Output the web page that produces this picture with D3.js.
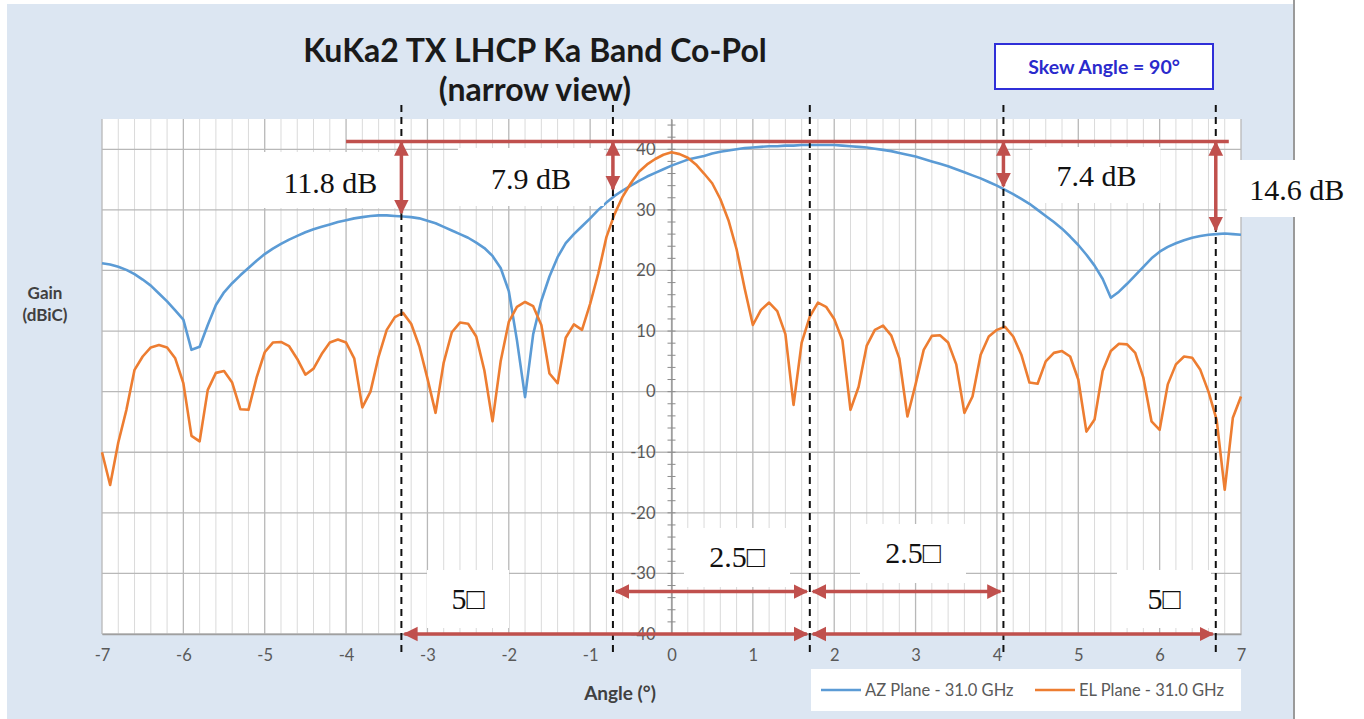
<!DOCTYPE html>
<html>
<head>
<meta charset="utf-8">
<script src="https://cdn.jsdelivr.net/npm/d3@7"></script>
<style>
  body { margin: 0; background: #fff; }
  svg { display: block; }
</style>
</head>
<body>
<div id="chart"></div>
<script>
// ---- data ----
const ANGLES = d3.range(-70, 71).map(d => d / 10);   // -7.0 .. 7.0 deg, 0.1 step

const AZ_GAIN = [
  21.2, 21.0, 20.6, 20.1, 19.4, 18.5, 17.5, 16.2, 14.9, 13.4,
  11.9, 6.9, 7.4, 11.0, 14.3, 16.4, 17.9, 19.2, 20.4, 21.6,
  22.7, 23.6, 24.4, 25.1, 25.7, 26.3, 26.8, 27.2, 27.6, 28.0,
  28.3, 28.6, 28.8, 29.0, 29.1, 29.1, 29.0, 28.9, 28.8, 28.6,
  28.2, 27.8, 27.2, 26.6, 26.0, 25.4, 24.6, 23.7, 22.4, 20.4,
  16.6, 8.5, -0.9, 9.5, 15.0, 19.0, 22.2, 24.5, 26.0, 27.3,
  28.6, 30.0, 31.2, 32.3, 33.2, 34.0, 34.8, 35.5, 36.1, 36.7,
  37.3, 37.8, 38.3, 38.6, 38.9, 39.3, 39.6, 39.8, 40.0, 40.2,
  40.3, 40.4, 40.5, 40.5, 40.6, 40.6, 40.7, 40.7, 40.7, 40.7,
  40.7, 40.6, 40.5, 40.4, 40.3, 40.1, 39.9, 39.7, 39.4, 39.1,
  38.8, 38.4, 38.0, 37.6, 37.2, 36.7, 36.2, 35.7, 35.2, 34.6,
  34.0, 33.3, 32.6, 31.8, 31.0, 30.0, 29.0, 28.0, 26.9, 25.6,
  24.2, 22.6, 20.8, 18.6, 15.5, 16.5, 17.8, 19.2, 20.6, 22.0,
  23.1, 23.9, 24.5, 25.0, 25.4, 25.7, 25.9, 26.0, 26.1, 26.0,
  25.9
];

const EL_GAIN = [
  -10.0, -15.4, -8.4, -3.0, 3.6, 5.8, 7.3, 7.7, 7.3, 5.5,
  1.4, -7.3, -8.2, 0.3, 3.1, 3.4, 1.5, -2.9, -3.0, 2.3,
  6.5, 8.1, 8.2, 7.5, 5.4, 2.8, 3.8, 6.2, 8.1, 8.6,
  8.1, 5.5, -2.6, 0.0, 5.8, 10.2, 12.3, 13.0, 11.2, 7.5,
  2.2, -3.5, 4.8, 9.8, 11.4, 11.2, 9.1, 3.5, -4.9, 5.0,
  11.5, 14.0, 14.8, 14.1, 11.0, 3.0, 1.4, 8.9, 11.1, 10.2,
  14.5, 19.5, 25.5, 29.3, 32.2, 34.4, 36.3, 37.5, 38.4, 39.1,
  39.5, 39.2, 38.6, 37.5, 36.0, 34.4, 31.8, 28.3, 23.5, 17.0,
  11.0, 13.5, 14.7, 13.3, 9.5, -2.2, 8.1, 12.4, 14.7, 14.0,
  12.0, 8.5, -3.0, 0.8, 7.6, 10.2, 10.9, 9.3, 5.5, -4.1,
  1.2, 6.9, 9.2, 9.3, 8.1, 4.5, -3.5, -0.8, 6.1, 9.1,
  10.2, 10.7, 9.1, 6.1, 1.5, 1.3, 5.0, 6.4, 6.7, 5.8,
  2.0, -6.6, -4.6, 3.4, 6.7, 7.9, 7.8, 6.4, 2.3, -4.9,
  -6.3, 1.2, 4.5, 5.8, 5.6, 3.6, 0.0, -4.6, -16.2, -4.3,
  -0.8
];

const SERIES_NAMES = ['AZ Plane - 31.0 GHz', 'EL Plane - 31.0 GHz'];
const X_TICKS = [-7, -6, -5, -4, -3, -2, -1, 0, 1, 2, 3, 4, 5, 6, 7];
const Y_TICKS = [-40, -30, -20, -10, 0, 10, 20, 30, 40];

// annotations
const REF_LEVEL = 41.3;                  // red reference line (dB)
const REF_SPAN = [-4.0, 6.85];
const MARKER_ANGLES = [-3.32, -0.72, 1.70, 4.08, 6.69];
const DROP_ANGLES = [-3.32, -0.72, 4.08, 6.69];
const DROP_DB = [11.8, 7.9, 7.4, 14.6];
const DROP_LABELS = ['11.8 dB', '7.9 dB', '7.4 dB', '14.6 dB'];
const SPAN_FROM = [-3.32, -0.72, 1.70, 1.70];
const SPAN_TO = [1.70, 1.70, 4.08, 6.69];
const SPAN_LEVEL = [-40, -33, -33, -40];
const SPAN_LABELS = ['5\u25A1', '2.5\u25A1', '2.5\u25A1', '5\u25A1'];

// ---- layout ----
const W = 1364, H = 719;
const PLOT = { left: 102, right: 1241, top: 119, bottom: 634 };
const BLUE = '#5b9bd5', ORANGE = '#ed7d31', RED = '#c0504d';
const FONT = 'Lato, "Open Sans", sans-serif';
const SERIF = '"Liberation Serif", "Times New Roman", serif';

const svg = d3.select('#chart').append('svg')
  .attr('width', W).attr('height', H)
  .attr('viewBox', `0 0 ${W} ${H}`);

svg.append('rect').attr('width', W).attr('height', H).attr('fill', '#fff');
svg.append('rect')
  .attr('x', 7).attr('y', 4).attr('width', 1287).attr('height', H - 4)
  .attr('fill', '#dce6f2');
svg.append('line')
  .attr('x1', 1294).attr('x2', 1294).attr('y1', 0).attr('y2', H)
  .attr('stroke', '#9a9a9a').attr('stroke-width', 2);

const x = d3.scaleLinear().domain([-7, 7]).range([PLOT.left, PLOT.right]);
const y = d3.scaleLinear().domain([-40, 45]).range([PLOT.bottom, PLOT.top]);

// plot background
svg.append('rect')
  .attr('x', PLOT.left).attr('y', PLOT.top)
  .attr('width', PLOT.right - PLOT.left).attr('height', PLOT.bottom - PLOT.top)
  .attr('fill', '#fff');

// gridlines
const grid = svg.append('g').attr('class', 'grid');
const vLines = d3.range(-70, 71, 2).map(d => d / 10);
grid.selectAll('line.v').data(vLines).join('line')
  .attr('class', 'v')
  .attr('x1', d => x(d)).attr('x2', d => x(d))
  .attr('y1', PLOT.top).attr('y2', PLOT.bottom)
  .attr('stroke', d => Number.isInteger(d) ? '#b8b8b8' : '#dadada')
  .attr('stroke-width', d => Number.isInteger(d) ? 1.3 : 1);
grid.selectAll('line.h').data(Y_TICKS).join('line')
  .attr('class', 'h')
  .attr('x1', PLOT.left).attr('x2', PLOT.right)
  .attr('y1', d => y(d)).attr('y2', d => y(d))
  .attr('stroke', '#b8b8b8').attr('stroke-width', 1.3);

// x axis (bottom)
const xAxis = svg.append('g')
  .attr('transform', `translate(0,${PLOT.bottom})`)
  .call(d3.axisBottom(x).tickValues(X_TICKS).tickSize(0).tickPadding(15).tickFormat(d => String(d)));
xAxis.select('.domain').attr('stroke', '#a0a0a0').attr('stroke-width', 1.3);
xAxis.selectAll('text').attr('font-family', FONT).attr('font-size', 16.5).attr('fill', '#595959');

// y axis at angle 0
const yAxis = svg.append('g')
  .attr('transform', `translate(${x(0)},0)`)
  .call(d3.axisLeft(y).tickValues(Y_TICKS).tickSize(0).tickPadding(16).tickFormat(d => String(d)));
yAxis.select('.domain').attr('stroke', '#8c8c8c').attr('stroke-width', 1.2);
yAxis.selectAll('text').attr('font-family', FONT).attr('font-size', 16.5).attr('fill', '#595959');
yAxis.selectAll('line.minor').data(d3.range(-40, 46, 2)).join('line')
  .attr('class', 'minor')
  .attr('x1', -4).attr('x2', 4)
  .attr('y1', d => y(d)).attr('y2', d => y(d))
  .attr('stroke', '#8c8c8c').attr('stroke-width', 1);

// series
const line = d3.line().x((d, i) => x(ANGLES[i])).y(d => y(d));
svg.append('path').datum(AZ_GAIN)
  .attr('d', line).attr('fill', 'none')
  .attr('stroke', BLUE).attr('stroke-width', 2.6).attr('stroke-linejoin', 'round');
svg.append('path').datum(EL_GAIN)
  .attr('d', line).attr('fill', 'none')
  .attr('stroke', ORANGE).attr('stroke-width', 2.6).attr('stroke-linejoin', 'round');

// arrowheads
const defs = svg.append('defs');
defs.append('marker')
  .attr('id', 'head').attr('viewBox', '0 0 10 10')
  .attr('refX', 9).attr('refY', 5)
  .attr('markerWidth', 4.2).attr('markerHeight', 4.6)
  .attr('markerUnits', 'strokeWidth')
  .attr('orient', 'auto-start-reverse')
  .append('path').attr('d', 'M0,0 L10,5 L0,10 Z').attr('fill', RED);

// annotation label boxes (white text boxes)
function labelBox(cx, baseline, w, h, txt, padTop) {
  const g = svg.append('g');
  g.append('rect')
    .attr('x', cx - w / 2).attr('y', baseline - padTop)
    .attr('width', w).attr('height', h).attr('fill', '#fff');
  g.append('text')
    .attr('x', cx).attr('y', baseline)
    .attr('text-anchor', 'middle')
    .attr('font-family', SERIF).attr('font-size', 30).attr('fill', '#111')
    .text(txt);
}

// drop labels: offsets from the arrow position (px)
const DROP_BOX = [
  { dx: -71, base: 193, w: 142, h: 56, top: 41 },
  { dx: -82, base: 189, w: 146, h: 58, top: 41 },
  { dx: 93, base: 186, w: 128, h: 56, top: 39 },
  { dx: 81, base: 200, w: 140, h: 57, top: 40 }
];
DROP_ANGLES.forEach((a, i) => {
  const b = DROP_BOX[i];
  labelBox(x(a) + b.dx, b.base, b.w, b.h, DROP_LABELS[i], b.top);
});

const SPAN_BOX = [
  { cx: 468, base: 609, w: 82, h: 58, top: 39 },
  { cx: 737, base: 567, w: 106, h: 59, top: 39 },
  { cx: 913, base: 563, w: 106, h: 59, top: 39 },
  { cx: 1164, base: 609, w: 94, h: 58, top: 39 }
];
SPAN_LABELS.forEach((t, i) => {
  const b = SPAN_BOX[i];
  labelBox(b.cx, b.base, b.w, b.h, t, b.top);
});

// dashed marker lines
svg.selectAll('line.marker').data(MARKER_ANGLES).join('line')
  .attr('class', 'marker')
  .attr('x1', d => x(d)).attr('x2', d => x(d))
  .attr('y1', 105).attr('y2', 652)
  .attr('stroke', '#111').attr('stroke-width', 2)
  .attr('stroke-dasharray', '7,5');

// red reference line
svg.append('line')
  .attr('x1', x(REF_SPAN[0])).attr('x2', x(REF_SPAN[1]))
  .attr('y1', y(REF_LEVEL)).attr('y2', y(REF_LEVEL))
  .attr('stroke', RED).attr('stroke-width', 3.5);

// vertical drop arrows
svg.selectAll('line.drop').data(DROP_ANGLES).join('line')
  .attr('class', 'drop')
  .attr('x1', d => x(d)).attr('x2', d => x(d))
  .attr('y1', y(REF_LEVEL) + 1)
  .attr('y2', (d, i) => y(REF_LEVEL - DROP_DB[i]))
  .attr('stroke', RED).attr('stroke-width', 3.5)
  .attr('marker-start', 'url(#head)').attr('marker-end', 'url(#head)');

// horizontal span arrows
svg.selectAll('line.span').data(SPAN_FROM).join('line')
  .attr('class', 'span')
  .attr('x1', d => x(d) + 3)
  .attr('x2', (d, i) => x(SPAN_TO[i]) - 3)
  .attr('y1', (d, i) => y(SPAN_LEVEL[i])).attr('y2', (d, i) => y(SPAN_LEVEL[i]))
  .attr('stroke', RED).attr('stroke-width', 3.5)
  .attr('marker-start', 'url(#head)').attr('marker-end', 'url(#head)');

// title
const title = svg.append('text')
  .attr('x', 535).attr('text-anchor', 'middle')
  .attr('font-family', FONT).attr('font-weight', 700)
  .attr('font-size', 32).attr('fill', '#1a1a1a');
title.append('tspan').attr('x', 535).attr('y', 62).text('KuKa2 TX LHCP Ka Band Co-Pol');
title.append('tspan').attr('x', 535).attr('y', 101).text('(narrow view)');

// skew angle box
svg.append('rect')
  .attr('x', 995).attr('y', 44).attr('width', 218).attr('height', 45)
  .attr('fill', '#fff').attr('stroke', '#2f2fd8').attr('stroke-width', 2);
svg.append('text')
  .attr('x', 1104).attr('y', 74).attr('text-anchor', 'middle')
  .attr('font-family', FONT).attr('font-weight', 700)
  .attr('font-size', 19.5).attr('fill', '#2a2acc')
  .text('Skew Angle = 90\u00B0');

// axis titles
svg.append('text')
  .attr('x', 45).attr('text-anchor', 'middle')
  .attr('font-family', FONT).attr('font-weight', 700)
  .attr('font-size', 17).attr('fill', '#404040')
  .call(t => {
    t.append('tspan').attr('x', 45).attr('y', 299).text('Gain');
    t.append('tspan').attr('x', 45).attr('y', 321).text('(dBiC)');
  });
svg.append('text')
  .attr('x', 620).attr('y', 700).attr('text-anchor', 'middle')
  .attr('font-family', FONT).attr('font-weight', 700)
  .attr('font-size', 19).attr('fill', '#404040')
  .text('Angle (\u00B0)');

// legend
const legend = svg.append('g').attr('transform', 'translate(811,669)');
legend.append('rect').attr('width', 430).attr('height', 42).attr('fill', '#fff');
const LEGEND_X = [10, 224];
[BLUE, ORANGE].forEach((c, i) => {
  legend.append('line')
    .attr('x1', LEGEND_X[i]).attr('x2', LEGEND_X[i] + 40)
    .attr('y1', 21).attr('y2', 21)
    .attr('stroke', c).attr('stroke-width', 2.6);
  legend.append('text')
    .attr('x', LEGEND_X[i] + 44).attr('y', 27)
    .attr('font-family', FONT).attr('font-size', 16.5).attr('fill', '#595959')
    .text(SERIES_NAMES[i]);
});
</script>
</body>
</html>
